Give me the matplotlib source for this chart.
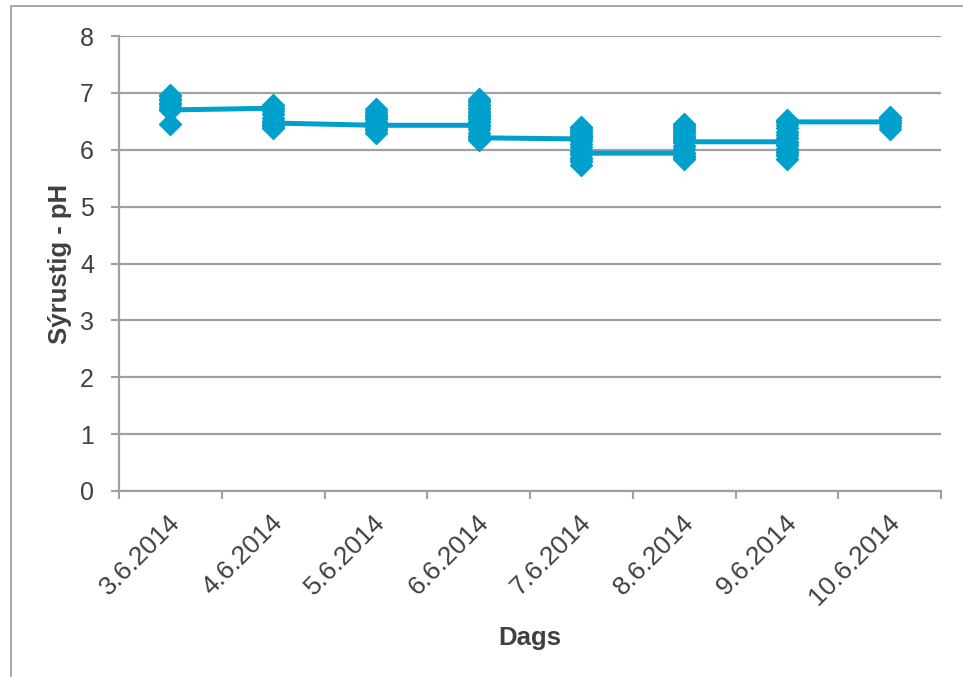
import numpy as np
import matplotlib.pyplot as plt
from matplotlib.patches import Rectangle
from matplotlib.transforms import ScaledTranslation

plt.rcParams['font.family'] = ['Liberation Sans', 'DejaVu Sans']

# sampling days and the pH readings taken on each day (in order)
dates = ['3.6.2014', '4.6.2014', '5.6.2014', '6.6.2014',
         '7.6.2014', '8.6.2014', '9.6.2014', '10.6.2014']
ph_0306 = [6.45, 6.72, 6.80, 6.87, 6.94, 6.96, 6.90, 6.82, 6.75, 6.70]
ph_0406 = [6.73, 6.79, 6.74, 6.68, 6.62, 6.56, 6.50, 6.44, 6.38, 6.42, 6.47]
ph_0506 = [6.43, 6.49, 6.55, 6.61, 6.67, 6.72, 6.66, 6.60, 6.54, 6.48,
           6.42, 6.36, 6.30, 6.35, 6.40, 6.43]
ph_0606 = [6.43, 6.49, 6.55, 6.61, 6.67, 6.73, 6.79, 6.85, 6.90, 6.84,
           6.78, 6.72, 6.66, 6.60, 6.54, 6.48, 6.42, 6.36, 6.30, 6.24,
           6.18, 6.21]
ph_0706 = [6.19, 6.25, 6.31, 6.37, 6.40, 6.34, 6.28, 6.22, 6.16, 6.10,
           6.04, 5.98, 5.92, 5.86, 5.80, 5.74, 5.80, 5.86, 5.92, 5.94]
ph_0806 = [5.94, 5.88, 5.83, 5.89, 5.95, 6.01, 6.07, 6.13, 6.19, 6.25,
           6.31, 6.37, 6.43, 6.46, 6.40, 6.34, 6.28, 6.22, 6.16, 6.14]
ph_0906 = [6.14, 6.08, 6.02, 5.96, 5.90, 5.84, 5.90, 5.96, 6.02, 6.08,
           6.14, 6.20, 6.26, 6.32, 6.38, 6.44, 6.50, 6.52, 6.49]
ph_1006 = [6.49, 6.55, 6.58, 6.53, 6.47, 6.42, 6.37]
readings = [ph_0306, ph_0406, ph_0506, ph_0606,
            ph_0706, ph_0806, ph_0906, ph_1006]

yticks = [0, 1, 2, 3, 4, 5, 6, 7, 8]

x = np.concatenate([[i] * len(r) for i, r in enumerate(readings)])
y = np.concatenate(readings)

W, H = 963, 677
fig = plt.figure(figsize=(W / 100, H / 100), dpi=100)
ax = fig.add_axes([119 / W, (H - 491) / H, 822 / W, 455 / H])

grey = '#a0a0a0'
txt = '#404040'
blue = '#00A0CC'

ax.plot(x, y, color=blue, lw=3.6, marker='D', ms=11, mfc=blue,
        mec=blue, mew=1, clip_on=False, zorder=3)

ax.set_xlim(-0.5, len(dates) - 0.5)
ax.set_ylim(0, 8)
ax.set_yticks(yticks)
ax.set_yticklabels([str(v) for v in yticks])
ax.yaxis.grid(True, color=grey, lw=1.6)
ax.set_axisbelow(True)

# category labels centred, tick marks on the boundaries
ax.set_xticks(np.arange(len(dates)))
ax.set_xticklabels(dates)
ax.set_xticks(np.arange(len(dates) + 1) - 0.5, minor=True)
ax.tick_params(axis='x', which='major', length=0, pad=20, labelsize=19,
               labelcolor=txt)
ax.tick_params(axis='x', which='minor', length=6, width=1.5, color=grey,
               direction='out')
ax.tick_params(axis='y', length=6, width=1.5, color=grey, pad=12,
               labelsize=18, labelcolor=txt)
offset = ScaledTranslation(6 / 100, 0, fig.dpi_scale_trans)
for lab in ax.get_xticklabels():
    lab.set_rotation(45)
    lab.set_rotation_mode('anchor')
    lab.set_ha('right')
    lab.set_va('center')
    lab.set_transform(lab.get_transform() + offset)

for s in ['top', 'right']:
    ax.spines[s].set_visible(False)
for s in ['left', 'bottom']:
    ax.spines[s].set_color(grey)
    ax.spines[s].set_linewidth(1.6)

ax.set_ylabel('Sýrustig - pH', fontsize=18.5, fontweight='bold', color=txt)
ax.set_xlabel('Dags', fontsize=18.5, fontweight='bold', color=txt)
ax.xaxis.set_label_coords(0.5, -(626 - 491) / 455)
ax.yaxis.set_label_coords(-(119 - 72) / 822, 0.5)

# chart frame
fig.patches.append(Rectangle((10.5 / W, -0.1), 1.2, 1.1 - 6.5 / H,
                             transform=fig.transFigure, fill=False,
                             ec=grey, lw=1.3))

fig.savefig('out.png', dpi=100)
